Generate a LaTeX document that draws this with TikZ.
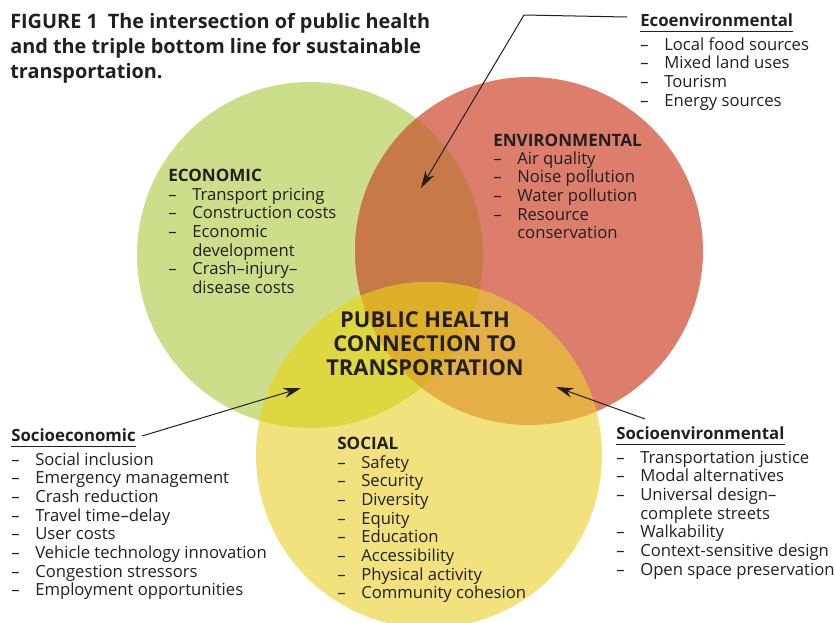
\documentclass[tikz,border=0pt]{standalone}
\usepackage{fontspec}
\setmainfont{Open Sans}
\usetikzlibrary{arrows.meta}

\definecolor{ink}{HTML}{231F20}
\definecolor{econfill}{HTML}{CDDE8A}
\definecolor{envfill}{HTML}{DD7D6B}
\definecolor{socfill}{HTML}{F1E27D}
\definecolor{econenv}{HTML}{C77A48}
\definecolor{econsoc}{HTML}{DDD840}
\definecolor{envsoc}{HTML}{E4B045}
\definecolor{allthree}{HTML}{DEB02A}

\newcommand{\itm}{\makebox[18pt][l]{--}}
\newcommand{\cont}{\hspace*{18pt}}
\newcommand{\vlist}[1]{\begin{tabular}[t]{@{}l@{}}#1\end{tabular}}
\newcommand{\uhead}[1]{\setbox0\hbox{#1}\rlap{\rule[-4.5pt]{\wd0}{0.8pt}}\box0}

\tikzset{
  txt/.style={inner sep=0pt, anchor=base west, text=ink,
    font=\fontsize{12.5}{14}\selectfont},
  head/.style={txt, font=\fontsize{12.8}{16}\selectfont\bfseries},
  subhead/.style={txt, font=\fontsize{12.6}{14}\selectfont\bfseries},
  pointer/.style={draw=ink, line width=0.75pt,
    -{Stealth[length=13pt,width=7.5pt,inset=4pt]}},
}

\begin{document}
\begin{tikzpicture}[x=0.75pt,y=-0.75pt]
\useasboundingbox (0,0) rectangle (835,622);

\fill[econfill] (310,255) circle [radius=173];
\fill[envfill] (529,251) circle [radius=174];
\fill[socfill] (429,455) circle [radius=173];
\begin{scope}
  \clip (529,251) circle [radius=174];
  \fill[envsoc] (429,455) circle [radius=173];
\end{scope}
\begin{scope}
  \clip (310,255) circle [radius=173];
  \fill[econenv] (529,251) circle [radius=174];
  \fill[econsoc] (429,455) circle [radius=173];
  \clip (529,251) circle [radius=174];
  \fill[allthree] (429,455) circle [radius=173];
\end{scope}

\node[txt, font=\fontsize{14.9}{19.1}\selectfont\bfseries] (title) at (10,28)
  {\vlist{FIGURE 1\hspace{0.5em}The intersection of public health\\
   and the triple bottom line for sustainable\\
   transportation.}};

\node[txt, anchor=center, align=center, font=\fontsize{16.4}{18}\selectfont\bfseries]
  (phc) at (425,344) {PUBLIC HEALTH\\CONNECTION TO\\TRANSPORTATION};

\node[head] (econ) at (168,181) {ECONOMIC};
\node[txt] (econitems) at (168,200)
  {\vlist{\itm Transport pricing\\ \itm Construction costs\\ \itm Economic\\
   \cont development\\ \itm Crash--injury--\\ \cont disease costs}};

\node[head] (envir) at (493,146) {ENVIRONMENTAL};
\node[txt] (envitems) at (493,164)
  {\vlist{\itm Air quality\\ \itm Noise pollution\\ \itm Water pollution\\
   \itm Resource\\ \cont conservation}};

\node[head] (social) at (337,449) {SOCIAL};
\node[txt] (socitems) at (337,468)
  {\vlist{\itm Safety\\ \itm Security\\ \itm Diversity\\ \itm Equity\\
   \itm Education\\ \itm Accessibility\\ \itm Physical activity\\
   \itm Community cohesion}};

\node[subhead] (ecoenv) at (640,26) {\uhead{Ecoenvironmental}};
\node[txt] (ecoenvitems) at (640,50)
  {\vlist{\itm Local food sources\\ \itm Mixed land uses\\ \itm Tourism\\
   \itm Energy sources}};

\node[subhead] (socioecon) at (11,441) {\uhead{Socioeconomic}};
\node[txt] (socioeconitems) at (11,465)
  {\vlist{\itm Social inclusion\\ \itm Emergency management\\ \itm Crash reduction\\
   \itm Travel time--delay\\ \itm User costs\\ \itm Vehicle technology innovation\\
   \itm Congestion stressors\\ \itm Employment opportunities}};

\node[subhead] (socioenv) at (616,439) {\uhead{Socioenvironmental}};
\node[txt] (socioenvitems) at (616,463)
  {\vlist{\itm Transportation justice\\ \itm Modal alternatives\\ \itm Universal design--\\
   \cont complete streets\\ \itm Walkability\\ \itm Context-sensitive design\\
   \itm Open space preservation}};

\coordinate (ecoenvbend) at (524,15);
\coordinate (ecoenvtip) at (421,188);
\coordinate (socioecontip) at (301,388);
\coordinate (socioenvtip) at (556,387);

\draw[pointer] ([shift={(-13,-9)}]ecoenv.base west) -- (ecoenvbend) -- (ecoenvtip);
\draw[pointer] ([shift={(6,-5)}]socioecon.base east) -- (socioecontip);
\draw[pointer] ([shift={(29,-7)}]socioenv.north west) -- (socioenvtip);
\end{tikzpicture}
\end{document}
